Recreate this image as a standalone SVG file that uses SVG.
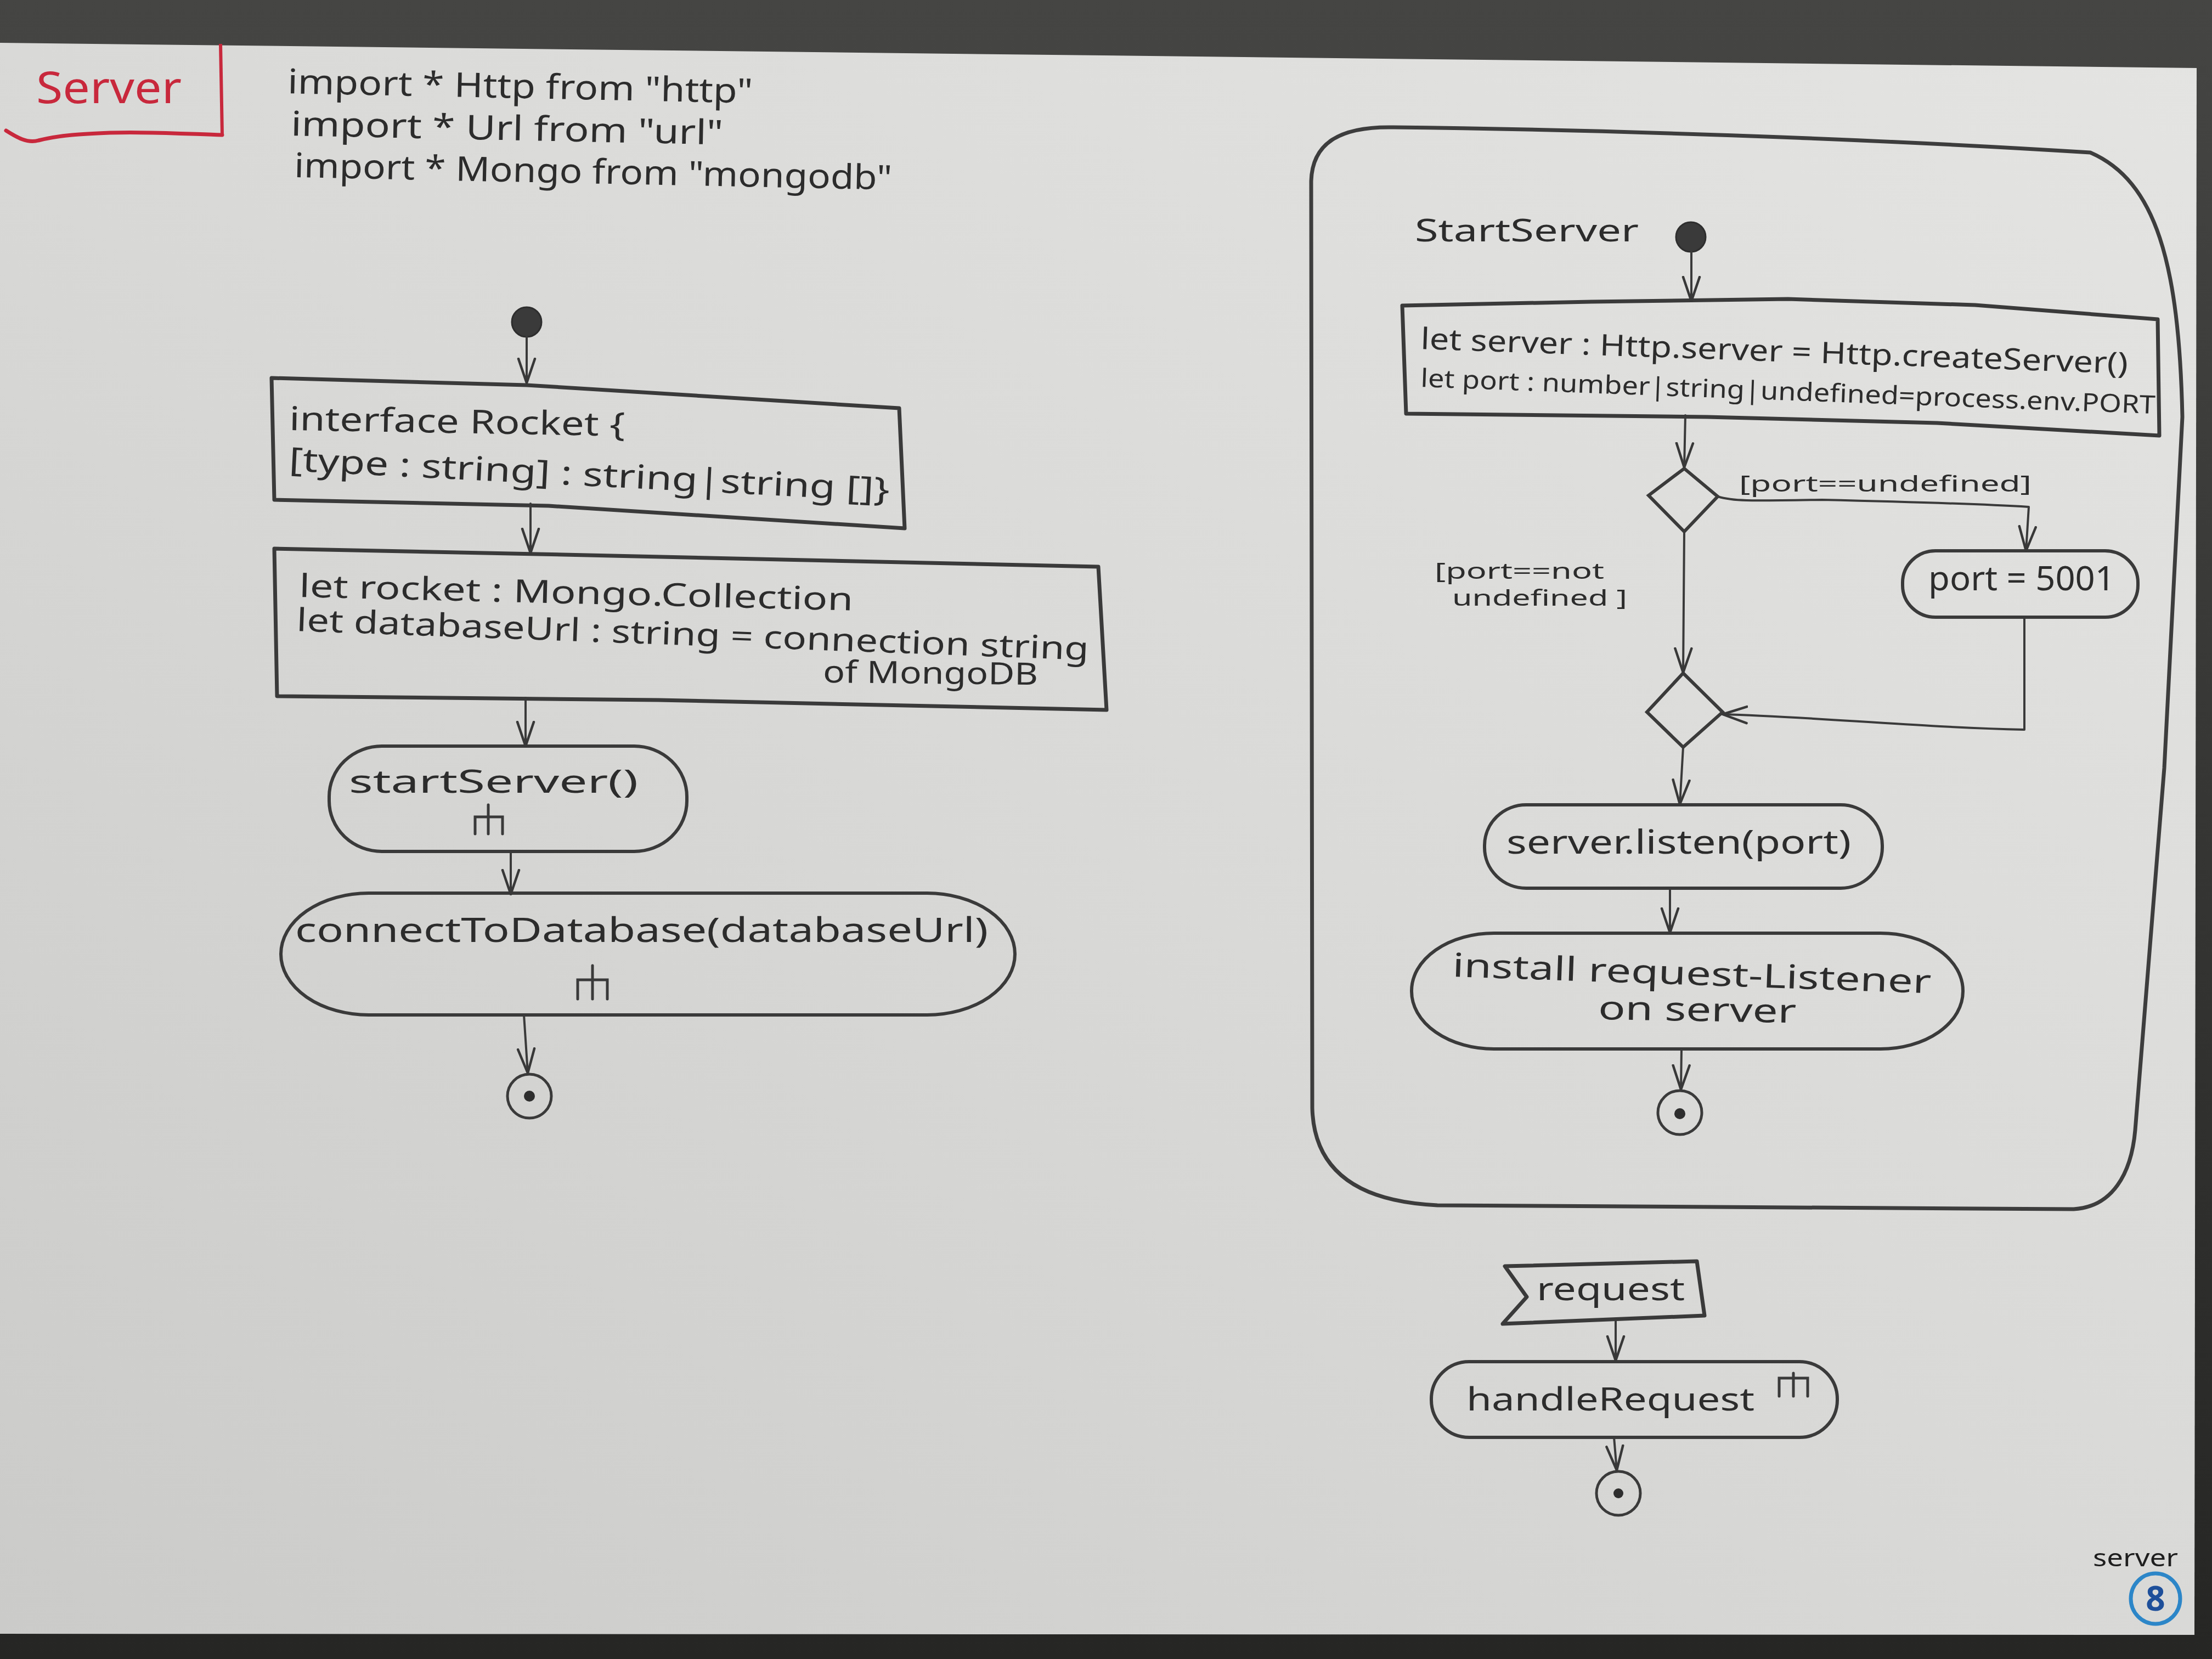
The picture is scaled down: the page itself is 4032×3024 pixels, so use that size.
<svg xmlns="http://www.w3.org/2000/svg" width="4032" height="3024" viewBox="0 0 4032 3024">
  <defs>
    <linearGradient id="paperShade" x1="1" y1="0" x2="0" y2="1">
      <stop offset="0" stop-color="#e4e4e2"/>
      <stop offset="0.5" stop-color="#d9d9d7"/>
      <stop offset="1" stop-color="#cbcbc9"/>
    </linearGradient>
    <linearGradient id="tableShade" x1="0" y1="0" x2="0" y2="1">
      <stop offset="0" stop-color="#454543"/>
      <stop offset="1" stop-color="#262624"/>
    </linearGradient>
    <marker id="arrow" viewBox="0 0 48 36" refX="46" refY="18" markerWidth="48" markerHeight="36" markerUnits="userSpaceOnUse" orient="auto">
      <path d="M2,3 L46,18 L2,33" fill="none" stroke="#383838" stroke-width="4.5" stroke-linecap="round" stroke-linejoin="round"/>
    </marker>
    <style>
      .hand { font-family: "Noto Sans", "DejaVu Sans", "Liberation Sans", sans-serif; fill: #2c2c2c; }
      .box { fill: none; stroke: #3a3a3a; stroke-width: 7; stroke-linejoin: round; }
      .action { fill: none; stroke: #3a3a3a; stroke-width: 6; }
      .flow { fill: none; stroke: #3a3a3a; stroke-width: 4; stroke-linecap: round; stroke-linejoin: round; marker-end: url(#arrow); }
      .rake { fill: none; stroke: #3a3a3a; stroke-width: 5; stroke-linecap: round; }
      .start { fill: #3a3a3a; stroke: #2e2e2e; stroke-width: 3; }
      .end { fill: none; stroke: #3a3a3a; stroke-width: 5; }
      .dot { fill: #2e2e2e; }
      .frame { fill: none; stroke: #3d3d3d; stroke-width: 7; stroke-linejoin: round; }
    </style>
  </defs>

  <!-- table and sheet -->
  <g id="backdrop">
    <rect x="0" y="0" width="4032" height="3024" fill="url(#tableShade)"/>
    <polygon points="0,78 4004,124 4000,2980 0,2978" fill="url(#paperShade)"/>
  </g>

  <!-- title corner -->
  <g id="title">
    <text class="hand" x="66" y="188" font-size="80" style="fill:#c8283c" textLength="265" lengthAdjust="spacingAndGlyphs">Server</text>
    <path d="M402,80 L405,246" fill="none" stroke="#c8283c" stroke-width="6"/>
    <path d="M11,238 C30,250 50,262 70,256 C110,246 150,244 200,242 C280,240 340,244 405,246" fill="none" stroke="#c8283c" stroke-width="7" stroke-linecap="round"/>
  </g>

  <!-- imports -->
  <g id="imports">
    <text class="hand" x="524" y="170" font-size="62" transform="rotate(1.2 524 170)" textLength="848" lengthAdjust="spacingAndGlyphs">import * Http from "http"</text>
    <text class="hand" x="530" y="247" font-size="62" transform="rotate(1.2 530 247)" textLength="788" lengthAdjust="spacingAndGlyphs">import * Url from "url"</text>
    <text class="hand" x="536" y="323" font-size="62" transform="rotate(1.2 536 323)" textLength="1090" lengthAdjust="spacingAndGlyphs">import * Mongo from "mongodb"</text>
  </g>

  <!-- main flow -->
  <g id="main-initial">
    <circle class="start" cx="960" cy="587" r="27"/>
  </g>

  <g id="rocket-interface">
    <path class="box" d="M495,689 L960,702 L1639,744 L1649,963 L1000,922 L500,911 Z"/>
    <text class="hand" x="527" y="784" font-size="60" transform="rotate(1 527 784)" textLength="612" lengthAdjust="spacingAndGlyphs">interface Rocket {</text>
    <text class="hand" x="526" y="858" font-size="60" transform="rotate(2.9 526 858)" textLength="1096" lengthAdjust="spacingAndGlyphs">[type : string] : string|string []}</text>
  </g>

  <g id="mongo-vars">
    <path class="box" d="M500,1000 L980,1010 L2002,1033 L2017,1294 L1200,1276 L505,1269 Z"/>
    <text class="hand" x="545" y="1088" font-size="58" transform="rotate(1.4 545 1088)" textLength="1010" lengthAdjust="spacingAndGlyphs">let rocket : Mongo.Collection</text>
    <text class="hand" x="540" y="1150" font-size="58" transform="rotate(2.1 540 1150)" textLength="1445" lengthAdjust="spacingAndGlyphs">let databaseUrl : string = connection string</text>
    <text class="hand" x="1500" y="1244" font-size="56" transform="rotate(0.6 1500 1244)" textLength="392" lengthAdjust="spacingAndGlyphs">of MongoDB</text>
  </g>

  <g id="call-startServer">
    <rect class="action" x="600" y="1360" width="652" height="192" rx="96" ry="92"/>
    <text class="hand" x="636" y="1445" font-size="58" textLength="527" lengthAdjust="spacingAndGlyphs">startServer()</text>
    <path class="rake" d="M890,1467 V1520 M866,1520 V1489 H916 V1520"/>
  </g>

  <g id="call-connectToDatabase">
    <rect class="action" x="512" y="1628" width="1338" height="222" rx="160" ry="111"/>
    <text class="hand" x="538" y="1717" font-size="62" textLength="1263" lengthAdjust="spacingAndGlyphs">connectToDatabase(databaseUrl)</text>
    <path class="rake" d="M1080,1760 V1821 M1053,1821 V1786 H1107 V1821"/>
  </g>

  <g id="main-final">
    <circle class="end" cx="965" cy="1998" r="40"/>
    <circle class="dot" cx="965" cy="1998" r="10"/>
  </g>

  <!-- startServer activity -->
  <g id="startServer-activity">
    <path class="frame" d="M2392,2020 C2395,2130 2470,2190 2620,2197 L3780,2204 C3850,2200 3885,2140 3892,2060 L3945,1400 L3978,760 C3972,480 3930,330 3810,278 C3400,252 2900,236 2540,232 C2440,230 2392,262 2390,330 Z"/>
    <text class="hand" x="2579" y="440" font-size="56" textLength="408" lengthAdjust="spacingAndGlyphs">StartServer</text>
  </g>

  <g id="server-initial">
    <circle class="start" cx="3082" cy="432" r="27"/>
  </g>

  <g id="server-vars">
    <path class="box" d="M2556,557 L2900,550 L3259,545 L3600,556 L3933,582 L3936,794 L3531,771 L3112,760 L2563,754 Z"/>
    <text class="hand" x="2589" y="636" font-size="54" transform="rotate(2 2589 636)" textLength="1290" lengthAdjust="spacingAndGlyphs">let server : Http.server = Http.createServer()</text>
    <text class="hand" x="2589" y="705" font-size="46" transform="rotate(2.1 2589 705)" textLength="1340" lengthAdjust="spacingAndGlyphs">let port : number|string|undefined=process.env.PORT</text>
  </g>

  <g id="port-decision">
    <polygon class="action" points="3070,854 3131,905 3070,969 3005,903"/>
  </g>

  <g id="default-port">
    <rect class="action" x="3468" y="1004" width="429" height="121" rx="60" ry="58"/>
    <text class="hand" x="3515" y="1076" font-size="62" textLength="340" lengthAdjust="spacingAndGlyphs">port = 5001</text>
  </g>

  <g id="port-merge">
    <polygon class="action" points="3068,1227 3140,1298 3068,1362 3002,1298"/>
  </g>

  <g id="server-listen">
    <rect class="action" x="2706" y="1467" width="725" height="152" rx="76" ry="74"/>
    <text class="hand" x="2746" y="1556" font-size="60" textLength="628" lengthAdjust="spacingAndGlyphs">server.listen(port)</text>
  </g>

  <g id="install-listener">
    <rect class="action" x="2573" y="1701" width="1005" height="211" rx="150" ry="105"/>
    <text class="hand" x="2647" y="1780" font-size="60" transform="rotate(2 2647 1780)" textLength="873" lengthAdjust="spacingAndGlyphs">install request-Listener</text>
    <text class="hand" x="2913" y="1858" font-size="60" transform="rotate(1 2913 1858)" textLength="361" lengthAdjust="spacingAndGlyphs">on server</text>
  </g>

  <g id="server-final">
    <circle class="end" cx="3062" cy="2028" r="40"/>
    <circle class="dot" cx="3062" cy="2030" r="10"/>
  </g>

  <!-- request handling -->
  <g id="request-event">
    <path class="box" d="M2743,2308 L3093,2299 L3107,2398 L2739,2413 L2783,2364 Z"/>
    <text class="hand" x="2801" y="2370" font-size="58" textLength="270" lengthAdjust="spacingAndGlyphs">request</text>
  </g>

  <g id="call-handleRequest">
    <rect class="action" x="2609" y="2482" width="740" height="138" rx="69" ry="68"/>
    <text class="hand" x="2673" y="2571" font-size="58" textLength="525" lengthAdjust="spacingAndGlyphs">handleRequest</text>
    <path class="rake" d="M3269,2503 V2545 M3243,2545 V2512 H3295 V2545"/>
  </g>

  <g id="request-final">
    <circle class="end" cx="2950" cy="2722" r="40"/>
    <circle class="dot" cx="2950" cy="2722" r="9"/>
  </g>

  <!-- control flows -->
  <g id="connectors">
    <path class="flow" d="M960,614 L960,698"/>
    <path class="flow" d="M967,918 L967,1008"/>
    <path class="flow" d="M958,1272 L958,1360"/>
    <path class="flow" d="M931,1552 L931,1630"/>
    <path class="flow" d="M955,1850 L962,1956"/>
    <path class="flow" d="M3083,459 L3083,549"/>
    <path class="flow" d="M3072,757 L3070,852"/>
    <path class="flow" d="M3131,905 C3160,914 3190,913 3321,911 C3450,914 3600,918 3698,924 L3693,1004"/>
    <path class="flow" d="M3690,1125 L3690,1330 C3500,1326 3300,1306 3140,1302"/>
    <path class="flow" d="M3070,969 L3068,1226"/>
    <path class="flow" d="M3068,1362 L3062,1466"/>
    <path class="flow" d="M3044,1620 L3044,1700"/>
    <path class="flow" d="M3065,1912 L3064,1986"/>
    <path class="flow" d="M2945,2404 L2945,2480"/>
    <path class="flow" d="M2942,2620 L2947,2680"/>
  </g>

  <!-- guards -->
  <g id="guards">
    <text class="hand" x="3170" y="896" font-size="40" textLength="533" lengthAdjust="spacingAndGlyphs">[port==undefined]</text>
    <text class="hand" x="2615" y="1055" font-size="40" textLength="309" lengthAdjust="spacingAndGlyphs">[port==not</text>
    <text class="hand" x="2647" y="1104" font-size="40" textLength="319" lengthAdjust="spacingAndGlyphs">undefined ]</text>
  </g>

  <!-- sheet number -->
  <g id="page-mark">
    <text class="hand" x="3815" y="2855" font-size="44" textLength="155" lengthAdjust="spacingAndGlyphs" style="fill:#1e1e1e">server</text>
    <ellipse cx="3929" cy="2914" rx="45" ry="46" fill="none" stroke="#2c86c8" stroke-width="7"/>
    <text x="3929" y="2936" font-size="62" text-anchor="middle" font-family="Noto Sans, DejaVu Sans, sans-serif" font-weight="bold" fill="#1e4f9a">8</text>
  </g>
</svg>
